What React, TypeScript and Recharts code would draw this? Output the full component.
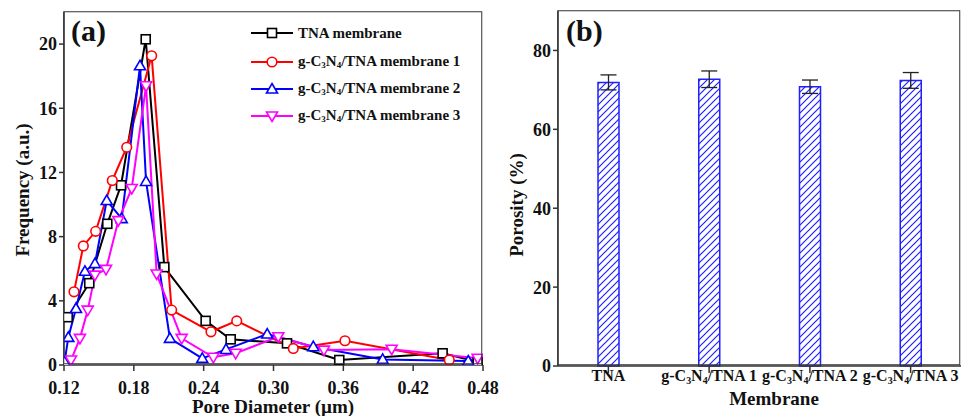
import React from 'react';
import {
  LineChart, Line, BarChart, Bar, XAxis, YAxis, ErrorBar,
} from 'recharts';

// (a) pore size distribution, x = pore diameter (µm), y = frequency (a.u.)
const tnaX = [0.1232, 0.1417, 0.1572, 0.169, 0.1902, 0.2062, 0.2417, 0.2632, 0.3116, 0.3565, 0.4453, 0.4754];
const tnaY = [2.98, 5.1, 8.8, 11.2, 20.3, 6.1, 2.75, 1.6, 1.35, 0.31, 0.73, 0.2];

const m1X = [0.1286, 0.1366, 0.1472, 0.1615, 0.1739, 0.1953, 0.2125, 0.2463, 0.2684, 0.317, 0.3614, 0.451];
const m1Y = [4.56, 7.42, 8.33, 11.5, 13.57, 19.27, 3.42, 2.07, 2.75, 1.03, 1.51, 0.31];

const m2X = [0.1205, 0.1237, 0.1303, 0.138, 0.1466, 0.1567, 0.1696, 0.1853, 0.1905, 0.211, 0.2388, 0.2592, 0.2946, 0.3342, 0.3938, 0.4673];
const m2Y = [0.2, 1.72, 3.52, 5.84, 6.32, 10.25, 9.12, 18.65, 11.44, 1.66, 0.41, 0.97, 1.93, 1.14, 0.35, 0.25];

const m3X = [0.126, 0.1337, 0.1404, 0.1466, 0.1561, 0.1667, 0.1782, 0.1905, 0.1996, 0.2211, 0.2483, 0.2675, 0.3041, 0.3433, 0.4015, 0.4754];
const m3Y = [0.31, 1.66, 3.42, 5.6, 5.96, 9.0, 11.0, 17.4, 5.67, 1.66, 0.48, 0.73, 1.76, 0.93, 0.98, 0.42];

const poreTicks = [0.12, 0.18, 0.24, 0.3, 0.36, 0.42, 0.48];
const freqTicks = [0, 4, 8, 12, 16, 20];

// (b) porosity
const membranes = ['TNA', 'g-C3N4/TNA 1', 'g-C3N4/TNA 2', 'g-C3N4/TNA 3'];
const porosity = [71.9, 72.7, 70.8, 72.4];
const porosityErr = [1.9, 2.1, 1.7, 2.0];
const porosityTicks = [0, 20, 40, 60, 80];

const FONT = "'Liberation Serif', 'Times New Roman', serif";
const AX = '#333';

const zip = (xs: number[], ys: number[]) => xs.map((x, i) => ({ x, y: ys[i] }));

const series = [
  { name: 'TNA membrane', color: '#000000', shape: 'square', data: zip(tnaX, tnaY) },
  { name: 'g-C3N4/TNA membrane 1', color: '#ff0000', shape: 'circle', data: zip(m1X, m1Y) },
  { name: 'g-C3N4/TNA membrane 2', color: '#0000ff', shape: 'up', data: zip(m2X, m2Y) },
  { name: 'g-C3N4/TNA membrane 3', color: '#ff00ff', shape: 'down', data: zip(m3X, m3Y) },
];

function Marker({ cx, cy, shape, color }: any) {
  const s = 4.5;
  if (shape === 'square') {
    return <rect x={cx - s} y={cy - s} width={2 * s} height={2 * s} fill="#fff" stroke={color} strokeWidth={1.6} />;
  }
  if (shape === 'circle') {
    return <circle cx={cx} cy={cy} r={s + 0.3} fill="#fff" stroke={color} strokeWidth={1.6} />;
  }
  if (shape === 'up') {
    return <path d={`M${cx},${cy - 5.5} L${cx + 5.5},${cy + 4} L${cx - 5.5},${cy + 4} Z`} fill="#fff" stroke={color} strokeWidth={1.6} />;
  }
  return <path d={`M${cx},${cy + 5.5} L${cx + 5.5},${cy - 4} L${cx - 5.5},${cy - 4} Z`} fill="#fff" stroke={color} strokeWidth={1.6} />;
}

const makeDot = (shape: string, color: string) => (p: any) => (
  <Marker key={`${shape}-${p.index}`} cx={p.cx} cy={p.cy} shape={shape} color={color} />
);

// "g-C3N4/TNA 1" -> ["g-C", "3", "N", "4", "/TNA 1"]; odd parts are subscripts
const chemParts = (s: string) => s.split(/(?<=[CN])(\d)/);

function ChemSvg({ text, size }: { text: string; size: number }) {
  const parts = chemParts(text);
  return (
    <>
      {parts.map((p, i) =>
        i % 2 === 1 ? (
          <tspan key={i} dy={3} fontSize={size * 0.62}>{p}</tspan>
        ) : (
          <tspan key={i} dy={i === 0 ? 0 : -3}>{p}</tspan>
        ),
      )}
    </>
  );
}

function ChemHtml({ text }: { text: string }) {
  const parts = chemParts(text);
  return (
    <>
      {parts.map((p, i) =>
        i % 2 === 1 ? (
          <sub key={i} style={{ fontSize: '0.6em', verticalAlign: '-0.25em' }}>{p}</sub>
        ) : (
          <span key={i}>{p}</span>
        ),
      )}
    </>
  );
}

function MemTick({ x, y, payload }: any) {
  return (
    <text x={x} y={y + 6} textAnchor="middle" fontFamily={FONT} fontWeight="bold" fontSize={16} fill="#111">
      <ChemSvg text={payload.value} size={16} />
    </text>
  );
}

const tickStyle = { fontFamily: FONT, fontWeight: 'bold', fontSize: 18, fill: '#111' };
const titleStyle: React.CSSProperties = {
  position: 'absolute', fontFamily: FONT, fontWeight: 'bold', fontSize: 19, color: '#111',
  whiteSpace: 'nowrap', transform: 'translate(-50%, -50%)',
};

function LegendRow({ s, top }: { s: (typeof series)[number]; top: number }) {
  return (
    <div style={{ position: 'absolute', left: 251, top: top - 10, height: 20, display: 'flex', alignItems: 'center' }}>
      <svg width={44} height={20} style={{ display: 'block' }}>
        <line x1={0} y1={10} x2={42} y2={10} stroke={s.color} strokeWidth={2} />
        <Marker cx={21} cy={10} shape={s.shape} color={s.color} />
      </svg>
      <span style={{ marginLeft: 3, fontFamily: FONT, fontWeight: 'bold', fontSize: 15, color: '#111', whiteSpace: 'nowrap' }}>
        <ChemHtml text={s.name} />
      </span>
    </div>
  );
}

export default function App() {
  const barData = membranes.map((m, i) => ({ name: m, value: porosity[i], err: porosityErr[i] }));

  return (
    <div style={{ position: 'absolute', left: 0, top: 0, width: 973, height: 416, background: '#fff', overflow: 'hidden' }}>
      {/* (a) */}
      <div style={{ position: 'absolute', left: 0, top: 0 }}>
        <LineChart width={500} height={416} margin={{ top: 12, right: 17, left: 0, bottom: 0 }}>
          <XAxis
            type="number"
            dataKey="x"
            domain={[0.12, 0.48]}
            ticks={poreTicks}
            tickFormatter={(v: number) => v.toFixed(2)}
            allowDataOverflow
            height={51}
            tick={tickStyle}
            tickSize={6}
            tickMargin={10}
            stroke={AX}
            strokeWidth={1.5}
          />
          <YAxis
            type="number"
            dataKey="y"
            domain={[0, 22]}
            ticks={freqTicks}
            allowDataOverflow
            width={64}
            tick={tickStyle}
            tickSize={5}
            stroke={AX}
            strokeWidth={1.5}
          />
          {series.map(s => (
            <Line
              key={s.name}
              data={s.data}
              dataKey="y"
              type="linear"
              stroke={s.color}
              strokeWidth={2}
              dot={makeDot(s.shape, s.color)}
              isAnimationActive={false}
            />
          ))}
        </LineChart>
      </div>
      <div style={{ position: 'absolute', left: 64, top: 12, width: 419, height: 353, border: `1.5px solid ${AX}`, boxSizing: 'border-box', transform: 'translate(-0.75px,-0.75px)', pointerEvents: 'none' }} />
      <div style={{ position: 'absolute', left: 71, top: 14, fontFamily: FONT, fontWeight: 'bold', fontSize: 30, color: '#111' }}>(a)</div>
      {series.map((s, i) => (
        <LegendRow key={s.name} s={s} top={[33, 62, 89, 116][i]} />
      ))}
      <div style={{ ...titleStyle, left: 273, top: 407 }}>Pore Diameter (µm)</div>
      <div style={{ ...titleStyle, left: 23, top: 190, transform: 'translate(-50%, -50%) rotate(-90deg)' }}>Frequency (a.u.)</div>

      {/* (b) */}
      <div style={{ position: 'absolute', left: 500, top: 0 }}>
        <BarChart width={473} height={416} data={barData} margin={{ top: 11, right: 12, left: 0, bottom: 0 }} barSize={21}>
          <defs>
            <pattern id="hatch" patternUnits="userSpaceOnUse" width={7} height={7}>
              <rect width={7} height={7} fill="#fff" />
              <path d="M0,7 L7,0 M-2,2 L2,-2 M5,9 L9,5" stroke="#1f1fff" strokeWidth={1.2} />
            </pattern>
          </defs>
          <XAxis
            dataKey="name"
            height={50}
            tick={<MemTick />}
            tickSize={7}
            interval={0}
            stroke={AX}
            strokeWidth={1.5}
          />
          <YAxis
            domain={[0, 90]}
            ticks={porosityTicks}
            width={58}
            tick={tickStyle}
            tickSize={5}
            stroke={AX}
            strokeWidth={1.5}
          />
          <Bar dataKey="value" fill="url(#hatch)" stroke="#1f1fff" strokeWidth={1.5} isAnimationActive={false}>
            <ErrorBar dataKey="err" width={8} stroke="#222" strokeWidth={1.3} direction="y" />
          </Bar>
        </BarChart>
      </div>
      <div style={{ position: 'absolute', left: 558, top: 11, width: 403, height: 355, border: `1.5px solid ${AX}`, boxSizing: 'border-box', transform: 'translate(-0.75px,-0.75px)', pointerEvents: 'none' }} />
      <div style={{ position: 'absolute', left: 566, top: 14, fontFamily: FONT, fontWeight: 'bold', fontSize: 30, color: '#111' }}>(b)</div>
      <div style={{ ...titleStyle, left: 774, top: 399 }}>Membrane</div>
      <div style={{ ...titleStyle, left: 517, top: 205, transform: 'translate(-50%, -50%) rotate(-90deg)' }}>Porosity (%)</div>
    </div>
  );
}
